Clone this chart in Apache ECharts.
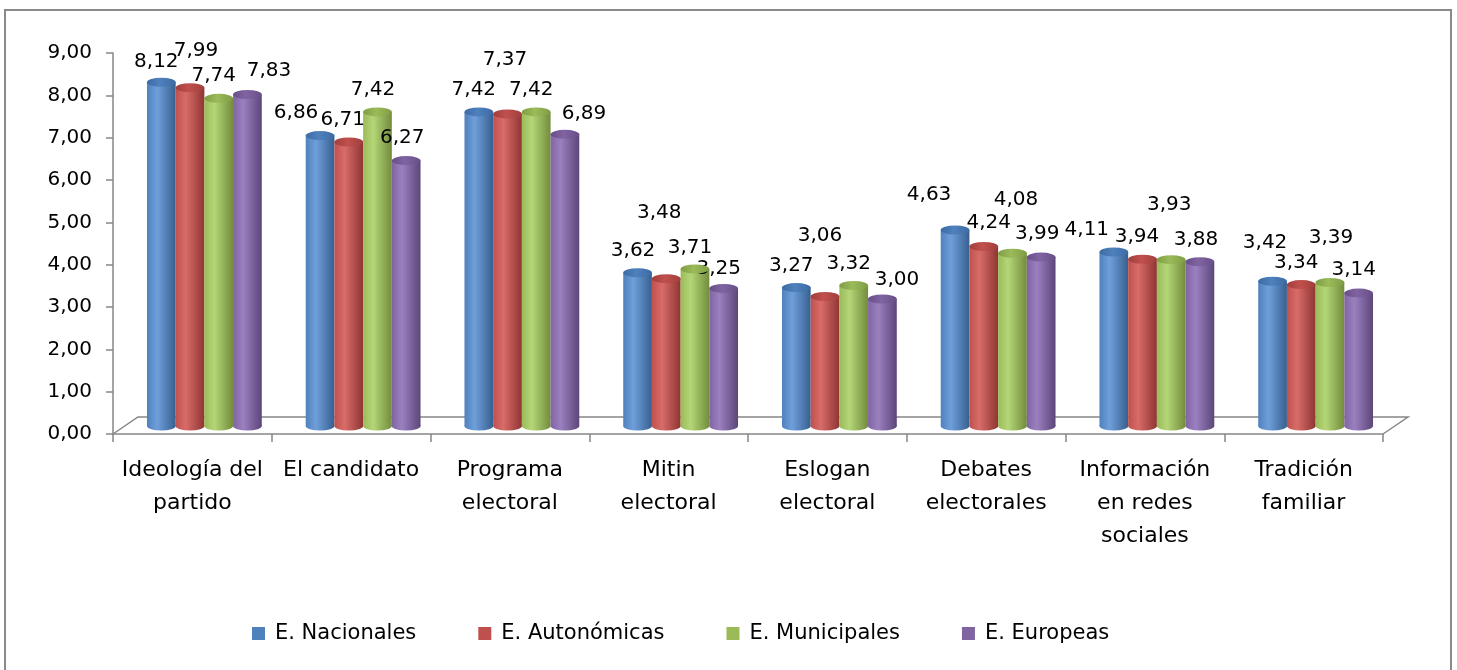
<!DOCTYPE html>
<html>
<head>
<meta charset="utf-8">
<script src="https://cdn.jsdelivr.net/npm/echarts@6/dist/echarts.min.js"></script>
<style>
html,body{margin:0;padding:0;background:#fff;}
#c{width:1457px;height:670px;}
</style>
</head>
<body>
<div id="c"></div>
<script>
// ---- data ----
const categories = ["Ideología del\npartido", "El candidato", "Programa\nelectoral", "Mitin\nelectoral", "Eslogan\nelectoral", "Debates\nelectorales", "Información\nen redes\nsociales", "Tradición\nfamiliar"];
const seriesNames = ["E. Nacionales", "E. Autonómicas", "E. Municipales", "E. Europeas"];
const nacionales  = [8.12, 6.86, 7.42, 3.62, 3.27, 4.63, 4.11, 3.42];
const autonomicas = [7.99, 6.71, 7.37, 3.48, 3.06, 4.24, 3.94, 3.34];
const municipales = [7.74, 7.42, 7.42, 3.71, 3.32, 4.08, 3.93, 3.39];
const europeas    = [7.83, 6.27, 6.89, 3.25, 3.00, 3.99, 3.88, 3.14];
const yTicks = [0, 1, 2, 3, 4, 5, 6, 7, 8, 9];

// ---- styles ----
const palettes = [
  {base:'#4F81BD', light:'#6f9fdb', dark:'#37608f', cap:'#3d6aa3'},
  {base:'#C0504D', light:'#d86c69', dark:'#8f3533', cap:'#a03f3c'},
  {base:'#9BBB59', light:'#b4d677', dark:'#728c3c', cap:'#7f9c45'},
  {base:'#8064A2', light:'#9b80c0', dark:'#5c4679', cap:'#684f88'}
];
// label nudges imitating the 3D label placement of the original
const labelNudges = [
  [[-5,-5],[-24,-8],[-5,-7],[-4.5,-7],[-5,-7],[-26,-20],[-27,-7],[-7.5,-23]],
  [[6,-22],[-6,-7],[-2.5,-39],[-7,-51],[-5,-46],[5,-8.5],[-5.5,-7],[-5,-7]],
  [[-5,-8],[-4.5,-7],[-5,-7],[-5,-6],[-5,-6.5],[3.5,-38],[-2,-40],[1,-30]],
  [[21.5,-9],[-4,-8],[19,-6],[-5,-5],[14.5,-4],[-4,-8],[-4,-7],[-5,-8]]
];
const FONT = 'DejaVu Sans';
const AXIS_GREY = '#868686';
const G0 = {left:113, right:74, top:53, bottom:236};   // front axes
const DEPTH = [12, 8];                                   // bar shift into depth
const FLOOR = [25, 17];                                  // floor depth
const G1 = {left:G0.left+DEPTH[0], right:G0.right-DEPTH[0], top:G0.top-DEPTH[1], bottom:G0.bottom+DEPTH[1]};
const BAR_W = 28.7, CAP_H = 9;

const allValues = [nacionales, autonomicas, municipales, europeas];
const fmt = v => v.toFixed(2).replace('.', ',');

function grad(p){
  return new echarts.graphic.LinearGradient(0,0,1,0,[
    {offset:0, color:p.base},
    {offset:0.35, color:p.light},
    {offset:1, color:p.dark}
  ]);
}

const series = [];
allValues.forEach((vals, s) => {
  const p = palettes[s];
  series.push({
    name: seriesNames[s], type:'bar', xAxisIndex:1, yAxisIndex:1,
    barGap:'0%', barWidth:BAR_W, z:2,
    itemStyle:{color:grad(p)},
    label:{show:true, position:'top', distance:5, color:'#000', fontFamily:FONT, fontSize:20,
      formatter: o => fmt(o.value)},
    data: vals.map((v,i)=>({value:v, label:{offset:labelNudges[s][i]}}))
  });
});
// bottom ellipses (own category axis so they get their own slots)
allValues.forEach((vals, s) => {
  const p = palettes[s];
  series.push({
    name: seriesNames[s]+' base', type:'pictorialBar', xAxisIndex:2, yAxisIndex:1,
    barGap:'0%', barWidth:BAR_W, z:1, silent:true,
    symbol:'circle', symbolSize:[BAR_W, CAP_H], symbolPosition:'start', symbolOffset:[0,'50%'],
    itemStyle:{color:grad(p)}, data: vals
  });
});
// top ellipses
allValues.forEach((vals, s) => {
  const p = palettes[s];
  series.push({
    name: seriesNames[s]+' top', type:'pictorialBar', xAxisIndex:1, yAxisIndex:1,
    barGap:'0%', barWidth:BAR_W, z:3, silent:true,
    symbol:'circle', symbolSize:[BAR_W, CAP_H], symbolPosition:'end', symbolOffset:[0,'-50%'],
    itemStyle:{color:new echarts.graphic.LinearGradient(0,0,1,0,[
      {offset:0, color:p.cap},{offset:0.45, color:p.base},{offset:1, color:p.cap}])},
    data: vals
  });
});

const chart = echarts.init(document.getElementById('c'), null, {renderer:'canvas'});
const W = 1457, H = 670;
const axY = H - G0.bottom, axL = G0.left, axR = W - G0.right;

chart.setOption({
  animation:false,
  backgroundColor:'#fff',
  textStyle:{fontFamily:FONT},
  legend:{
    data: seriesNames.map((n,i)=>({name:n, itemStyle:{color:palettes[i].base}})),
    left:247, top:618, itemWidth:13, itemHeight:13, itemGap:62, icon:'rect',
    textStyle:{fontFamily:FONT, fontSize:21, color:'#000', padding:[0,0,0,5]}
  },
  graphic:[
    {type:'rect', z:-1, silent:true, shape:{x:5, y:10, width:W-11, height:H+20},
      style:{fill:'none', stroke:'#8a8a8a', lineWidth:2}},
    {type:'polyline', z:-1, silent:true,
      shape:{points:[[axL,axY],[axL+FLOOR[0],axY-FLOOR[1]],[axR+FLOOR[0],axY-FLOOR[1]],[axR,axY]]},
      style:{fill:'none', stroke:AXIS_GREY, lineWidth:1.5}}
  ],
  grid:[
    {left:G0.left, right:G0.right, top:G0.top, bottom:G0.bottom},
    {left:G1.left, right:G1.right, top:G1.top, bottom:G1.bottom}
  ],
  xAxis:[
    {type:'category', gridIndex:0, data:categories,
      axisLine:{lineStyle:{color:AXIS_GREY, width:1.5}},
      axisTick:{show:true, length:8, lineStyle:{color:AXIS_GREY, width:1.5}},
      axisLabel:{color:'#000', fontFamily:FONT, fontSize:22, lineHeight:33, margin:20, interval:0}},
    {type:'category', gridIndex:1, data:categories, show:false},
    {type:'category', gridIndex:1, data:categories, show:false}
  ],
  yAxis:[
    {type:'value', gridIndex:0, min:yTicks[0], max:yTicks[yTicks.length-1], interval:1,
      axisLine:{show:true, lineStyle:{color:AXIS_GREY, width:1.5}},
      axisTick:{show:true, length:7, lineStyle:{color:AXIS_GREY, width:1.5}},
      splitLine:{show:false},
      axisLabel:{color:'#000', fontFamily:FONT, fontSize:20, margin:21, formatter: v => fmt(v)}},
    {type:'value', gridIndex:1, min:yTicks[0], max:yTicks[yTicks.length-1], interval:1, show:false, splitLine:{show:false}}
  ],
  series: series
});
</script>
</body>
</html>
